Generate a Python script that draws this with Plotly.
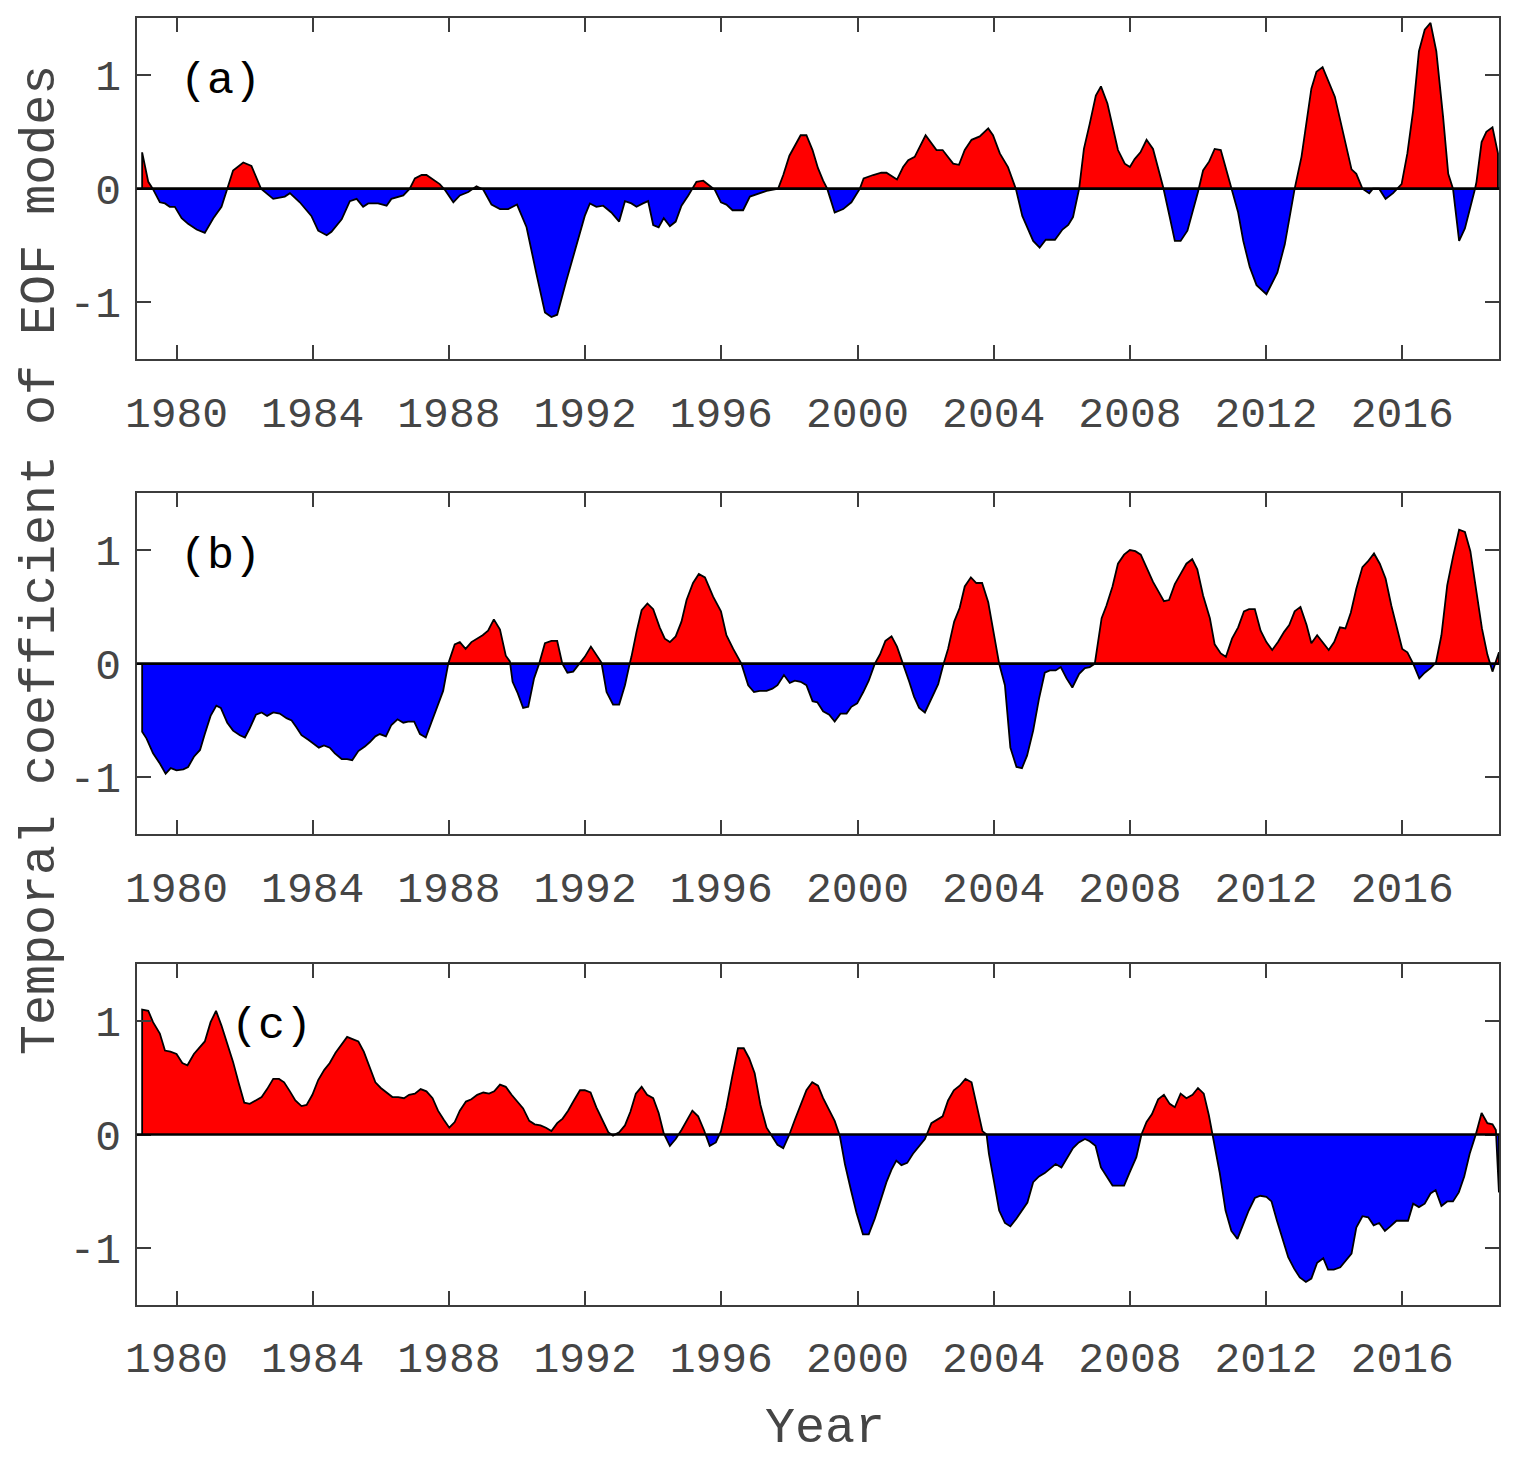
"""Temporal coefficients of the three leading EOF modes."""

from __future__ import annotations

import numpy as np
import plotly.graph_objects as go
from plotly.subplots import make_subplots

YEARS_A = [
    1978.99, 1979.17, 1979.30, 1979.51, 1979.66, 1979.80, 1979.95, 1980.15, 1980.34, 1980.59,
    1980.83, 1981.08, 1981.32, 1981.49, 1981.66, 1981.96, 1982.20, 1982.48, 1982.84, 1983.18,
    1983.33, 1983.62, 1983.96, 1984.16, 1984.41, 1984.55, 1984.85, 1985.09, 1985.29, 1985.48,
    1985.63, 1985.92, 1986.17, 1986.31, 1986.66, 1986.85, 1987.00, 1987.20, 1987.34, 1987.73,
    1987.88, 1988.13, 1988.32, 1988.57, 1988.81, 1989.01, 1989.25, 1989.50, 1989.74, 1990.00,
    1990.28, 1990.57, 1990.82, 1991.01, 1991.18, 1991.45, 1991.75, 1991.99, 1992.14, 1992.33,
    1992.53, 1992.77, 1993.00, 1993.17, 1993.36, 1993.51, 1993.70, 1993.85, 1994.00, 1994.16,
    1994.31, 1994.49, 1994.66, 1994.83, 1995.03, 1995.27, 1995.47, 1995.81, 1995.99, 1996.15,
    1996.33, 1996.64, 1996.84, 1997.13, 1997.33, 1997.67, 1997.82, 1998.00, 1998.33, 1998.50,
    1998.68, 1998.84, 1998.99, 1999.11, 1999.33, 1999.58, 1999.82, 2000.07, 2000.18, 2000.46,
    2000.70, 2000.85, 2001.00, 2001.16, 2001.34, 2001.49, 2001.68, 2002.00, 2002.32, 2002.50,
    2002.81, 2002.98, 2003.15, 2003.35, 2003.59, 2003.84, 2003.98, 2004.18, 2004.42, 2004.65,
    2004.84, 2005.16, 2005.35, 2005.53, 2005.80, 2006.02, 2006.19, 2006.33, 2006.51, 2006.65,
    2006.82, 2007.00, 2007.15, 2007.34, 2007.65, 2007.85, 2008.00, 2008.14, 2008.31, 2008.49,
    2008.68, 2008.98, 2009.17, 2009.32, 2009.49, 2009.69, 2010.00, 2010.15, 2010.33, 2010.49,
    2010.67, 2010.98, 2011.18, 2011.33, 2011.52, 2011.72, 2012.01, 2012.33, 2012.55, 2012.84,
    2013.04, 2013.33, 2013.48, 2013.66, 2014.02, 2014.51, 2014.65, 2014.83, 2015.03, 2015.14,
    2015.32, 2015.51, 2015.73, 2015.98, 2016.15, 2016.32, 2016.49, 2016.66, 2016.83, 2017.00,
    2017.20, 2017.35, 2017.49, 2017.67, 2017.84, 2018.13, 2018.18, 2018.33, 2018.47, 2018.65,
    2018.81,
]
COEF_A = [
    0.32, 0.06, 0.00, -0.12, -0.13, -0.16, -0.16, -0.26, -0.31, -0.36,
    -0.39, -0.26, -0.16, 0.00, 0.16, 0.23, 0.20, 0.00, -0.09, -0.07,
    -0.04, -0.12, -0.24, -0.37, -0.41, -0.38, -0.27, -0.11, -0.09, -0.16,
    -0.13, -0.13, -0.15, -0.09, -0.06, 0.00, 0.09, 0.12, 0.12, 0.04,
    -0.01, -0.12, -0.06, -0.03, 0.02, -0.01, -0.14, -0.18, -0.18, -0.14,
    -0.34, -0.75, -1.09, -1.13, -1.11, -0.81, -0.49, -0.24, -0.13, -0.16,
    -0.15, -0.21, -0.29, -0.11, -0.13, -0.16, -0.13, -0.11, -0.32, -0.34,
    -0.26, -0.33, -0.29, -0.15, -0.06, 0.06, 0.07, -0.01, -0.12, -0.14,
    -0.19, -0.19, -0.07, -0.04, -0.02, 0.00, 0.12, 0.29, 0.47, 0.47,
    0.34, 0.18, 0.07, 0.00, -0.21, -0.18, -0.12, 0.00, 0.09, 0.12,
    0.14, 0.14, 0.11, 0.08, 0.19, 0.25, 0.28, 0.47, 0.34, 0.34,
    0.22, 0.21, 0.34, 0.43, 0.46, 0.53, 0.47, 0.31, 0.19, 0.00,
    -0.24, -0.46, -0.52, -0.45, -0.45, -0.36, -0.32, -0.25, 0.00, 0.35,
    0.57, 0.82, 0.90, 0.75, 0.34, 0.22, 0.19, 0.26, 0.32, 0.43,
    0.35, 0.01, -0.25, -0.46, -0.46, -0.37, -0.03, 0.16, 0.24, 0.35,
    0.34, 0.00, -0.21, -0.46, -0.69, -0.85, -0.93, -0.74, -0.49, 0.00,
    0.28, 0.88, 1.03, 1.07, 0.81, 0.17, 0.13, 0.00, -0.04, 0.00,
    0.00, -0.09, -0.04, 0.04, 0.31, 0.69, 1.21, 1.40, 1.46, 1.21,
    0.63, 0.13, 0.00, -0.46, -0.35, -0.01, 0.06, 0.41, 0.50, 0.54,
    0.31,
]

YEARS_B = [
    1978.99, 1979.12, 1979.31, 1979.51, 1979.68, 1979.83, 1980.00, 1980.20, 1980.34, 1980.51,
    1980.69, 1980.83, 1981.00, 1981.17, 1981.30, 1981.49, 1981.66, 1981.86, 1982.01, 1982.15,
    1982.33, 1982.50, 1982.66, 1982.84, 1983.03, 1983.23, 1983.38, 1983.52, 1983.67, 1983.87,
    1984.01, 1984.18, 1984.33, 1984.50, 1984.65, 1984.85, 1985.01, 1985.16, 1985.34, 1985.53,
    1985.68, 1985.84, 1985.97, 1986.15, 1986.31, 1986.49, 1986.66, 1986.80, 1986.98, 1987.15,
    1987.32, 1987.49, 1987.66, 1987.83, 1987.98, 1988.17, 1988.32, 1988.49, 1988.66, 1988.84,
    1988.99, 1989.15, 1989.32, 1989.50, 1989.67, 1989.79, 1989.87, 1990.02, 1990.18, 1990.33,
    1990.50, 1990.65, 1990.82, 1991.01, 1991.18, 1991.33, 1991.48, 1991.65, 1991.80, 1991.99,
    1992.17, 1992.48, 1992.63, 1992.82, 1993.00, 1993.17, 1993.31, 1993.36, 1993.51, 1993.66,
    1993.83, 1994.00, 1994.19, 1994.34, 1994.49, 1994.66, 1994.83, 1994.98, 1995.17, 1995.34,
    1995.52, 1995.76, 1995.99, 1996.15, 1996.35, 1996.59, 1996.79, 1996.96, 1997.13, 1997.33,
    1997.50, 1997.65, 1997.84, 1998.01, 1998.16, 1998.33, 1998.50, 1998.68, 1998.82, 1998.99,
    1999.17, 1999.33, 1999.50, 1999.68, 1999.82, 1999.99, 2000.17, 2000.33, 2000.51, 2000.66,
    2000.82, 2001.00, 2001.16, 2001.34, 2001.52, 2001.66, 2001.81, 2001.98, 2002.17, 2002.37,
    2002.52, 2002.66, 2002.84, 2003.00, 2003.15, 2003.33, 2003.49, 2003.66, 2003.84, 2003.98,
    2004.16, 2004.33, 2004.49, 2004.67, 2004.83, 2004.98, 2005.16, 2005.33, 2005.50, 2005.65,
    2005.82, 2005.97, 2006.14, 2006.31, 2006.51, 2006.68, 2006.82, 2006.97, 2007.17, 2007.31,
    2007.49, 2007.65, 2007.83, 2008.00, 2008.16, 2008.32, 2008.51, 2008.68, 2008.85, 2009.00,
    2009.15, 2009.32, 2009.49, 2009.66, 2009.83, 2009.98, 2010.15, 2010.35, 2010.49, 2010.67,
    2010.82, 2011.00, 2011.18, 2011.35, 2011.50, 2011.67, 2011.84, 2012.01, 2012.18, 2012.35,
    2012.53, 2012.68, 2012.84, 2013.01, 2013.19, 2013.33, 2013.50, 2013.68, 2013.84, 2014.00,
    2014.17, 2014.33, 2014.49, 2014.65, 2014.83, 2014.99, 2015.17, 2015.34, 2015.51, 2015.68,
    2015.85, 2016.00, 2016.15, 2016.32, 2016.50, 2016.66, 2016.83, 2016.99, 2017.15, 2017.32,
    2017.49, 2017.67, 2017.84, 2018.00, 2018.18, 2018.34, 2018.50, 2018.65, 2018.84,
]
COEF_B = [
    -0.60, -0.66, -0.79, -0.88, -0.97, -0.92, -0.94, -0.93, -0.91, -0.82,
    -0.76, -0.62, -0.46, -0.37, -0.39, -0.52, -0.59, -0.63, -0.65, -0.57,
    -0.45, -0.43, -0.46, -0.43, -0.44, -0.48, -0.50, -0.56, -0.63, -0.67,
    -0.70, -0.74, -0.72, -0.74, -0.79, -0.84, -0.84, -0.85, -0.77, -0.73,
    -0.69, -0.64, -0.62, -0.64, -0.54, -0.49, -0.52, -0.51, -0.51, -0.62,
    -0.65, -0.51, -0.38, -0.24, 0.00, 0.17, 0.19, 0.13, 0.19, 0.22,
    0.25, 0.29, 0.39, 0.30, 0.07, 0.02, -0.16, -0.26, -0.39, -0.38,
    -0.13, 0.00, 0.18, 0.20, 0.20, 0.00, -0.08, -0.07, -0.01, 0.06,
    0.15, 0.01, -0.25, -0.36, -0.36, -0.19, 0.00, 0.06, 0.28, 0.47,
    0.53, 0.48, 0.32, 0.22, 0.19, 0.24, 0.37, 0.56, 0.71, 0.79,
    0.76, 0.59, 0.46, 0.25, 0.13, 0.00, -0.19, -0.25, -0.24, -0.24,
    -0.22, -0.19, -0.10, -0.17, -0.15, -0.16, -0.19, -0.33, -0.34, -0.42,
    -0.45, -0.51, -0.44, -0.44, -0.38, -0.35, -0.25, -0.15, 0.00, 0.08,
    0.20, 0.24, 0.15, 0.00, -0.16, -0.29, -0.39, -0.43, -0.31, -0.18,
    -0.01, 0.13, 0.37, 0.49, 0.68, 0.76, 0.71, 0.71, 0.54, 0.31,
    0.00, -0.19, -0.74, -0.91, -0.92, -0.81, -0.59, -0.31, -0.08, -0.06,
    -0.06, -0.03, -0.13, -0.21, -0.09, -0.04, -0.03, 0.00, 0.40, 0.51,
    0.68, 0.88, 0.96, 1.00, 0.99, 0.96, 0.83, 0.72, 0.63, 0.55,
    0.56, 0.70, 0.79, 0.88, 0.92, 0.83, 0.60, 0.40, 0.17, 0.09,
    0.06, 0.22, 0.32, 0.46, 0.48, 0.48, 0.29, 0.19, 0.12, 0.19,
    0.28, 0.34, 0.46, 0.50, 0.34, 0.18, 0.25, 0.18, 0.12, 0.19,
    0.32, 0.31, 0.45, 0.66, 0.85, 0.90, 0.97, 0.88, 0.75, 0.51,
    0.31, 0.13, 0.10, 0.00, -0.13, -0.08, -0.04, 0.01, 0.25, 0.69,
    0.94, 1.18, 1.16, 0.99, 0.63, 0.31, 0.08, -0.07, 0.10,
]

YEARS_C = [
    1978.99, 1979.17, 1979.31, 1979.51, 1979.66, 1979.82, 1980.00, 1980.17, 1980.32, 1980.51,
    1980.67, 1980.83, 1981.00, 1981.16, 1981.32, 1981.49, 1981.66, 1981.83, 1981.99, 1982.15,
    1982.33, 1982.50, 1982.66, 1982.84, 1983.01, 1983.16, 1983.33, 1983.49, 1983.67, 1983.82,
    1983.99, 1984.16, 1984.34, 1984.50, 1984.67, 1984.85, 1985.01, 1985.17, 1985.34, 1985.50,
    1985.68, 1985.84, 1986.00, 1986.17, 1986.34, 1986.51, 1986.68, 1986.83, 1987.00, 1987.17,
    1987.34, 1987.52, 1987.68, 1987.85, 1988.01, 1988.17, 1988.32, 1988.50, 1988.66, 1988.83,
    1989.01, 1989.18, 1989.33, 1989.50, 1989.67, 1989.84, 1990.00, 1990.18, 1990.36, 1990.52,
    1990.69, 1990.85, 1991.01, 1991.18, 1991.34, 1991.50, 1991.67, 1991.85, 1991.99, 1992.16,
    1992.33, 1992.50, 1992.68, 1992.82, 1993.00, 1993.17, 1993.33, 1993.49, 1993.66, 1993.82,
    1994.00, 1994.16, 1994.31, 1994.49, 1994.66, 1994.83, 1995.00, 1995.15, 1995.32, 1995.49,
    1995.66, 1995.84, 1995.99, 1996.15, 1996.32, 1996.49, 1996.66, 1996.82, 1996.98, 1997.15,
    1997.33, 1997.49, 1997.65, 1997.82, 1998.00, 1998.16, 1998.33, 1998.50, 1998.67, 1998.84,
    1998.99, 1999.17, 1999.33, 1999.48, 1999.63, 1999.80, 1999.97, 2000.16, 2000.33, 2000.51,
    2000.67, 2000.85, 2001.00, 2001.14, 2001.29, 2001.46, 2001.63, 2001.80, 2001.98, 2002.17,
    2002.32, 2002.50, 2002.66, 2002.83, 2003.00, 2003.17, 2003.35, 2003.51, 2003.67, 2003.79,
    2003.86, 2004.00, 2004.16, 2004.33, 2004.49, 2004.67, 2004.99, 2005.16, 2005.33, 2005.50,
    2005.65, 2005.82, 2005.99, 2006.16, 2006.33, 2006.50, 2006.68, 2006.82, 2006.99, 2007.15,
    2007.31, 2007.49, 2007.67, 2007.83, 2008.00, 2008.19, 2008.34, 2008.49, 2008.65, 2008.83,
    2009.00, 2009.17, 2009.32, 2009.49, 2009.66, 2009.84, 2010.00, 2010.17, 2010.32, 2010.64,
    2010.81, 2010.98, 2011.16, 2011.33, 2011.49, 2011.67, 2011.83, 2012.01, 2012.16, 2012.32,
    2012.48, 2012.65, 2012.82, 2012.99, 2013.17, 2013.33, 2013.50, 2013.68, 2013.82, 2013.99,
    2014.18, 2014.34, 2014.51, 2014.65, 2014.83, 2015.00, 2015.16, 2015.32, 2015.49, 2015.65,
    2015.83, 2016.00, 2016.17, 2016.32, 2016.49, 2016.66, 2016.83, 2016.98, 2017.15, 2017.32,
    2017.49, 2017.66, 2017.82, 2017.98, 2018.16, 2018.33, 2018.50, 2018.65, 2018.75, 2018.84,
]
COEF_C = [
    1.10, 1.09, 0.99, 0.89, 0.74, 0.73, 0.71, 0.63, 0.61, 0.71,
    0.77, 0.82, 0.99, 1.09, 0.96, 0.81, 0.64, 0.45, 0.28, 0.27,
    0.30, 0.33, 0.40, 0.49, 0.49, 0.46, 0.38, 0.30, 0.25, 0.26,
    0.35, 0.48, 0.57, 0.63, 0.72, 0.80, 0.86, 0.84, 0.82, 0.73,
    0.58, 0.46, 0.41, 0.37, 0.33, 0.33, 0.32, 0.35, 0.36, 0.40,
    0.38, 0.32, 0.21, 0.13, 0.06, 0.11, 0.21, 0.29, 0.31, 0.35,
    0.37, 0.36, 0.38, 0.44, 0.42, 0.35, 0.29, 0.23, 0.12, 0.09,
    0.08, 0.06, 0.03, 0.10, 0.14, 0.21, 0.30, 0.39, 0.39, 0.37,
    0.24, 0.13, 0.02, -0.01, 0.02, 0.08, 0.20, 0.36, 0.42, 0.35,
    0.32, 0.19, 0.01, -0.10, -0.04, 0.04, 0.13, 0.21, 0.16, 0.04,
    -0.10, -0.07, 0.03, 0.24, 0.51, 0.76, 0.76, 0.67, 0.54, 0.26,
    0.06, -0.01, -0.09, -0.12, 0.00, 0.13, 0.26, 0.39, 0.46, 0.43,
    0.32, 0.22, 0.12, -0.01, -0.26, -0.48, -0.69, -0.88, -0.88, -0.74,
    -0.58, -0.42, -0.31, -0.23, -0.27, -0.25, -0.17, -0.11, -0.04, 0.10,
    0.13, 0.16, 0.30, 0.39, 0.43, 0.49, 0.46, 0.24, 0.03, 0.00,
    -0.17, -0.40, -0.67, -0.78, -0.81, -0.74, -0.60, -0.42, -0.37, -0.34,
    -0.30, -0.26, -0.29, -0.21, -0.12, -0.07, -0.04, -0.06, -0.10, -0.29,
    -0.37, -0.45, -0.45, -0.45, -0.33, -0.20, 0.00, 0.11, 0.18, 0.31,
    0.35, 0.27, 0.24, 0.36, 0.32, 0.35, 0.41, 0.36, 0.17, -0.34,
    -0.67, -0.85, -0.92, -0.79, -0.67, -0.56, -0.54, -0.55, -0.59, -0.76,
    -0.92, -1.08, -1.18, -1.26, -1.30, -1.27, -1.13, -1.09, -1.19, -1.19,
    -1.17, -1.11, -1.05, -0.82, -0.72, -0.73, -0.80, -0.78, -0.85, -0.81,
    -0.76, -0.76, -0.76, -0.61, -0.64, -0.61, -0.52, -0.49, -0.63, -0.59,
    -0.59, -0.51, -0.37, -0.17, 0.00, 0.19, 0.10, 0.09, 0.04, -0.51,
]

PANEL_LABELS = ["(a)", "(b)", "(c)"]
TICK_YEARS = [1980, 1984, 1988, 1992, 1996, 2000, 2004, 2008, 2012, 2016]
Y_TICKS = [-1, 0, 1]
Y_TICK_TEXT = ["-1", "0", "1"]

FONT = "Liberation Mono, Courier New, monospace"
AXIS_GREY = "#3c3c3c"
TEXT_GREY = "#454545"
WIDTH, HEIGHT = 1519, 1461
PAGE_OFFSET = 8  # default body margin of the written page
X_RANGE = [1978.83, 2018.85]
Y_RANGE = [-1.5, 1.5]


def px_x(px: float) -> float:
    """Screen pixel column -> paper fraction."""
    return (px - PAGE_OFFSET) / WIDTH


def px_y(py: float) -> float:
    """Screen pixel row -> paper fraction."""
    return 1 - (py - PAGE_OFFSET) / HEIGHT


# panel frames measured on screen (top, bottom) and the shared left/right
PANEL_ROWS = [(18.3, 359.0), (493.3, 834.0), (964.3, 1304.7)]
PANEL_COLS = (136.7, 1499.3)


def split_at_zero(years: list[float], values: list[float]):
    """Insert zero crossings so the positive and negative parts fill cleanly."""
    xs = [years[0]]
    ys = [values[0]]
    for x0, y0, x1, y1 in zip(years[:-1], values[:-1], years[1:], values[1:]):
        if y0 * y1 < 0:
            xs.append(x0 + (x1 - x0) * y0 / (y0 - y1))
            ys.append(0.0)
        xs.append(x1)
        ys.append(y1)
    xs = np.array(xs)
    ys = np.array(ys)
    return xs, np.maximum(ys, 0.0), np.minimum(ys, 0.0)


def add_panel(figure: go.Figure, row: int, years: list[float], values: list[float]) -> None:
    xs, positive, negative = split_at_zero(years, values)
    for part, colour in ((positive, "#ff0000"), (negative, "#0000ff")):
        figure.add_trace(
            go.Scatter(
                x=xs,
                y=part,
                mode="lines",
                fill="tozeroy",
                fillcolor=colour,
                line={"width": 0, "color": colour},
                hoverinfo="skip",
                showlegend=False,
            ),
            row=row,
            col=1,
        )
    figure.add_trace(
        go.Scatter(
            x=[years[0]] + list(years) + [years[-1]],
            y=[0.0] + list(values) + [0.0],
            mode="lines",
            line={"color": "black", "width": 1.8},
            showlegend=False,
        ),
        row=row,
        col=1,
    )
    figure.add_hline(y=0, line_color="black", line_width=2.6, row=row, col=1)


fig = make_subplots(rows=3, cols=1, vertical_spacing=0.08)
add_panel(fig, 1, YEARS_A, COEF_A)
add_panel(fig, 2, YEARS_B, COEF_B)
add_panel(fig, 3, YEARS_C, COEF_C)

axis_style = dict(
    showline=True,
    linecolor=AXIS_GREY,
    linewidth=2,
    mirror="ticks",
    ticks="inside",
    ticklen=14,
    tickwidth=1.5,
    tickcolor=AXIS_GREY,
    showgrid=False,
    zeroline=False,
    automargin=False,
    tickfont={"family": FONT, "size": 43, "color": TEXT_GREY},
)
for row, (top, bottom) in enumerate(PANEL_ROWS, start=1):
    fig.update_xaxes(
        range=X_RANGE,
        domain=[px_x(PANEL_COLS[0]), px_x(PANEL_COLS[1])],
        tickvals=TICK_YEARS,
        ticktext=[str(y) for y in TICK_YEARS],
        ticklabelstandoff=14,
        row=row,
        col=1,
        **axis_style,
    )
    fig.update_yaxes(
        range=Y_RANGE,
        domain=[px_y(bottom), px_y(top)],
        tickvals=Y_TICKS,
        ticktext=Y_TICK_TEXT,
        ticklabelstandoff=5,
        row=row,
        col=1,
        **axis_style,
    )

label_spots = [(1981.3, 0.94), (1981.3, 0.94), (1982.8, 0.95)]
for row, (text, (lx, ly)) in enumerate(zip(PANEL_LABELS, label_spots), start=1):
    suffix = "" if row == 1 else str(row)
    fig.add_annotation(
        x=lx,
        y=ly,
        xref=f"x{suffix}",
        yref=f"y{suffix}",
        text=text,
        showarrow=False,
        xanchor="center",
        yanchor="middle",
        font={"family": FONT, "size": 45, "color": "black"},
    )

fig.add_annotation(
    x=px_x(40),
    y=px_y(560),
    xref="paper",
    yref="paper",
    text="Temporal coefficient of EOF modes",
    textangle=-90,
    xanchor="center",
    yanchor="middle",
    showarrow=False,
    font={"family": FONT, "size": 50, "color": TEXT_GREY},
)
fig.add_annotation(
    x=px_x(825),
    y=px_y(1428),
    xref="paper",
    yref="paper",
    text="Year",
    xanchor="center",
    yanchor="middle",
    showarrow=False,
    font={"family": FONT, "size": 50, "color": TEXT_GREY},
)

fig.update_layout(
    width=WIDTH,
    height=HEIGHT,
    margin={"l": 0, "r": 0, "t": 0, "b": 0},
    paper_bgcolor="white",
    plot_bgcolor="white",
    showlegend=False,
)
fig.write_html("out.html")
